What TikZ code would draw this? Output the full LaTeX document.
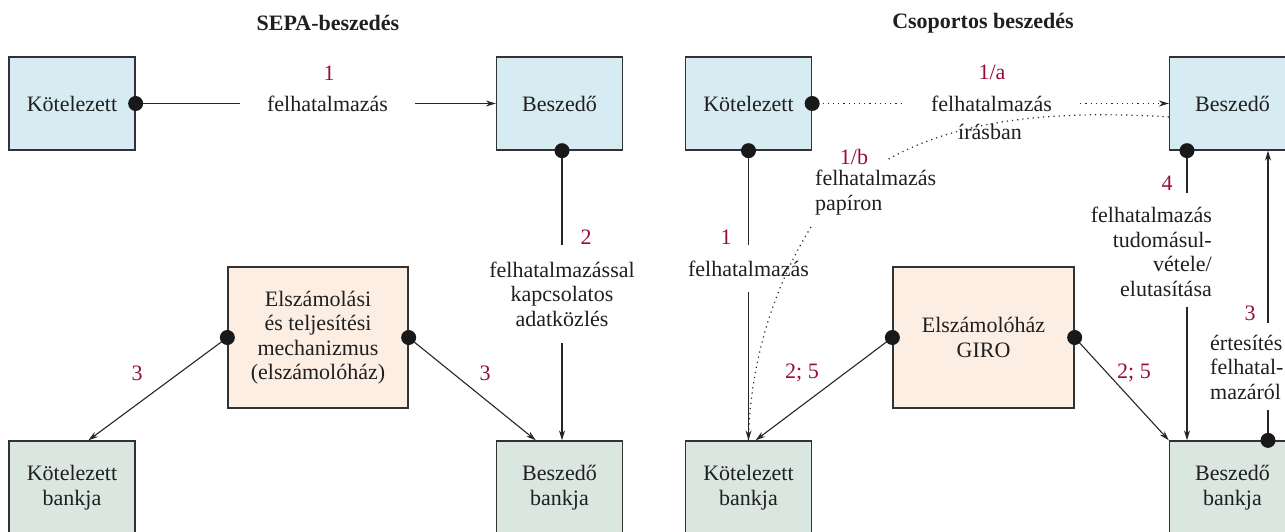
\documentclass[tikz,border=0pt]{standalone}
\usepackage{fontspec}
\setmainfont{Liberation Serif}
\usetikzlibrary{arrows.meta,calc}
\definecolor{numred}{RGB}{150,12,62}
\definecolor{boxblue}{RGB}{214,236,242}
\definecolor{boxpeach}{RGB}{253,238,228}
\definecolor{boxgreen}{RGB}{218,230,224}
\definecolor{edgegray}{RGB}{50,50,50}
\begin{document}
\begin{tikzpicture}[x=1pt,y=-1pt,
  every node/.style={font=\fontsize{22}{24.5}\selectfont, inner sep=0pt, text=black!88},
  box/.style={draw=edgegray, line width=1.3pt, minimum width=126pt, minimum height=93pt, align=center},
  topbox/.style={box, fill=boxblue},
  midbox/.style={box, fill=boxpeach, minimum width=180pt, minimum height=141pt},
  bankbox/.style={box, fill=boxgreen},
  num/.style={text=numred},
  lab/.style={align=center},
  title/.style={font=\fontsize{22}{24.5}\selectfont\bfseries},
  conn/.style={line width=1.1pt, draw=black!85},
  arr/.style={conn, -{Stealth[length=10pt,width=6pt]}},
  dots/.style={line width=1.2pt, draw=black!85, dash pattern=on 1.2pt off 4pt},
  dotarr/.style={dots, -{Stealth[length=10pt,width=6pt]}},
  blob/.style={fill=black!90}
]
\useasboundingbox (0,0) rectangle (1285,531);
\clip (0,0) rectangle (1285,531);

% titles
\node[title] (t1) at (328,23) {SEPA-beszedés};
\node[title] (t2) at (983,23) {Csoportos beszedés};

% ---------- left panel boxes
\node[topbox] (K1) at (72,103.5) {Kötelezett};
\node[topbox] (B1) at (559.5,103.5) {Beszedő};
\node[midbox] (E1) at (318,337.5) {Elszámolási\\és teljesítési\\mechanizmus\\(elszámolóház)};
\node[bankbox] (KB1) at (72,487.5) {Kötelezett\\bankja};
\node[bankbox] (BB1) at (559.5,487.5) {Beszedő\\bankja};

% ---------- right panel boxes
\node[topbox] (K2) at (748.5,103.5) {Kötelezett};
\node[topbox] (B2) at (1232.5,103.5) {Beszedő};
\node[midbox, minimum width=181pt] (E2) at (983.5,337.5) {Elszámolóház\\GIRO};
\node[bankbox] (KB2) at (748.5,487.5) {Kötelezett\\bankja};
\node[bankbox] (BB2) at (1232.5,487.5) {Beszedő\\bankja};

% ---------- left panel connectors
\node[lab, minimum width=175pt] (l1) at (327.5,103.5) {felhatalmazás};
\node[num] (n1) at (329,73) {1};
\draw[conn] (K1.east) -- (l1.west);
\draw[arr] (l1.east) -- (B1.west);

\node[lab, minimum height=98pt] (l2) at (562,294) {felhatalmazással\\kapcsolatos\\adatközlés};
\node[num] (n2) at (586,237) {2};
\draw[conn] (l2.north |- B1.south) -- (l2.north);
\draw[arr] (l2.south) -- (l2.south |- BB1.north);

\draw[arr] (E1.west) -- ($(KB1.north west)+(80,0)$);
\node[num] (n3a) at (137,373) {3};
\draw[arr] (E1.east) -- ($(BB1.north west)+(40,0)$);
\node[num] (n3b) at (485,373) {3};

% ---------- right panel connectors
\node[lab, minimum width=177pt] (r1) at (991.5,103.5) {felhatalmazás};
\node[lab] (r1b) at (990,132) {írásban};
\node[num] (n1a) at (992,72) {1/a};
\draw[dots] (K2.east) -- (r1.west);
\draw[dotarr] (r1.east) -- (B2.west);

\coordinate (c1) at (887,160);
\coordinate (c2) at (811,227);
\draw[dots] ($(B2.west)+(0,13.5)$) .. controls (1060,110) and (960,118) .. (c1);
\draw[dots] (c2) .. controls (775,285) and (750,360) .. (KB2.north);
\node[num] (n1b) at (854,157) {1/b};
\node[align=left, anchor=west] (r1c) at (815,192.5) {felhatalmazás\\papíron};

\node[lab, minimum height=47pt] (r2) at (748.5,268.5) {felhatalmazás};
\node[num] (n1r) at (726,237) {1};
\draw[conn] (K2.south) -- (r2.north);
\draw[arr] (r2.south) -- (KB2.north);

\coordinate (g4a) at (1187,193);
\coordinate (g4b) at (1187,307);
\draw[conn] (g4a |- B2.south) -- (g4a);
\draw[arr] (g4b) -- (g4b |- BB2.north);
\node[num] (n4) at (1167,183) {4};
\node[align=right, anchor=east] (r4) at (1212,252) {felhatalmazás\\tudomásul-\\vétele/\\elutasítása};

\coordinate (g3a) at (1268,410);
\coordinate (g3b) at (1268,323);
\draw[conn] (g3a |- BB2.north) -- (g3a);
\draw[arr] (g3b) -- (g3b |- B2.south);
\node[num] (n3r) at (1250,313) {3};
\node[align=left, anchor=west] (r3) at (1210,367) {értesítés\\felhatal-\\mazáról};

\draw[arr] (E2.west) -- ($(KB2.north)+(7,0)$);
\node[num] (n25a) at (802,373) {2; 5};
\draw[arr] (E2.east) -- (BB2.north west);
\node[num] (n25b) at (1134,373) {2; 5};

% ---------- dots
\fill[blob] (K1.east) circle[radius=7.5pt];
\fill[blob] (l2.north |- B1.south) circle[radius=7.5pt];
\fill[blob] (E1.west) circle[radius=7.5pt];
\fill[blob] (E1.east) circle[radius=7.5pt];
\fill[blob] (K2.east) circle[radius=7.5pt];
\fill[blob] (K2.south) circle[radius=7.5pt];
\fill[blob] (g4a |- B2.south) circle[radius=7.5pt];
\fill[blob] (g3a |- BB2.north) circle[radius=7.5pt];
\fill[blob] (E2.west) circle[radius=7.5pt];
\fill[blob] (E2.east) circle[radius=7.5pt];
\end{tikzpicture}
\end{document}
